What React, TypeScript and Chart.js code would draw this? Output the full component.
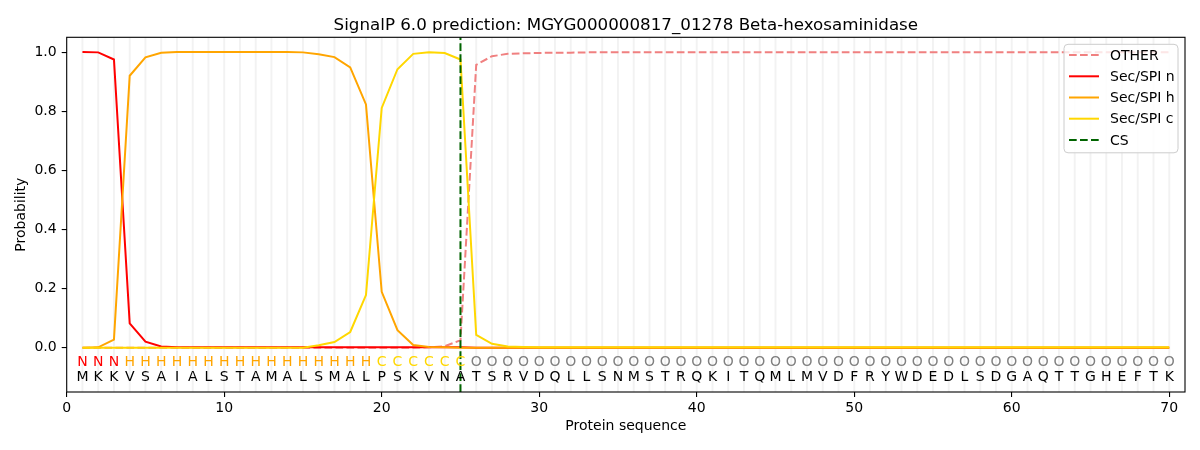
import { useEffect, useRef } from 'react'
import { Chart, registerables } from 'chart.js'

Chart.register(...registerables)

const TITLE = 'SignalP 6.0 prediction: MGYG000000817_01278 Beta-hexosaminidase'
const FONT = "'DejaVu Sans'"

const residues = 'MKKVSAIALSTAMALSMALPSKVNATSRVDQLLSNMSTRQKITQMLMVDFRYWDEDLSDGAQTTGHEFTK'.split('')
const regionLabels = 'NNNHHHHHHHHHHHHHHHHCCCCCCOOOOOOOOOOOOOOOOOOOOOOOOOOOOOOOOOOOOOOOOOOOOO'.split('')
const regionColors: Record<string, string> = { N: '#ff0000', H: '#ffa500', C: '#ffd700', O: '#808080' }

const otherP = [
  0, 0, 0, 0, 0, 0, 0, 0, 0, 0,
  0, 0, 0, 0, 0, 0, 0, 0, 0, 0,
  0, 0, 0.001, 0.005, 0.025, 0.957, 0.986, 0.994, 0.996, 0.997,
  0.998, 0.998, 0.999, 0.999, 0.999, 0.999, 0.999, 0.999, 0.999, 0.999,
  0.999, 0.999, 0.999, 0.999, 0.999, 0.999, 0.999, 0.999, 0.999, 0.999,
  0.999, 0.999, 0.999, 0.999, 0.999, 0.999, 0.999, 0.999, 0.999, 0.999,
  0.999, 0.999, 0.999, 0.999, 0.999, 0.999, 0.999, 0.999, 0.999, 0.999,
]
const secN = [
  1.0, 0.999, 0.975, 0.082, 0.02, 0.004, 0.001, 0.001, 0.001, 0.001,
  0.001, 0.001, 0.001, 0.001, 0.001, 0.001, 0.001, 0.001, 0.001, 0.001,
  0.001, 0.001, 0.001, 0.001, 0.001, 0, 0, 0, 0, 0,
  0, 0, 0, 0, 0, 0, 0, 0, 0, 0,
  0, 0, 0, 0, 0, 0, 0, 0, 0, 0,
  0, 0, 0, 0, 0, 0, 0, 0, 0, 0,
  0, 0, 0, 0, 0, 0, 0, 0, 0, 0,
]
const secH = [
  0, 0.001, 0.027, 0.92, 0.982, 0.998, 1.0, 1.0, 1.0, 1.0,
  1.0, 1.0, 1.0, 1.0, 0.999, 0.993, 0.983, 0.948, 0.823, 0.189,
  0.059, 0.009, 0.002, 0.001, 0, 0, 0, 0, 0, 0,
  0, 0, 0, 0, 0, 0, 0, 0, 0, 0,
  0, 0, 0, 0, 0, 0, 0, 0, 0, 0,
  0, 0, 0, 0, 0, 0, 0, 0, 0, 0,
  0, 0, 0, 0, 0, 0, 0, 0, 0, 0,
]
const secC = [
  0, 0, 0, 0, 0, 0, 0, 0, 0, 0,
  0, 0, 0, 0, 0, 0.008, 0.019, 0.053, 0.178, 0.811,
  0.942, 0.994, 0.999, 0.997, 0.975, 0.043, 0.013, 0.004, 0.002, 0.001,
  0.001, 0.001, 0.001, 0.001, 0.001, 0.001, 0.001, 0.001, 0.001, 0.001,
  0.001, 0.001, 0.001, 0.001, 0.001, 0.001, 0.001, 0.001, 0.001, 0.001,
  0.001, 0.001, 0.001, 0.001, 0.001, 0.001, 0.001, 0.001, 0.001, 0.001,
  0.001, 0.001, 0.001, 0.001, 0.001, 0.001, 0.001, 0.001, 0.001, 0.001,
]
const csPosition = 25

const xTicks = [0, 10, 20, 30, 40, 50, 60, 70]
const yTicks = [0, 0.2, 0.4, 0.6, 0.8, 1.0]
const xRange = [0, 71]
const yRange = [-0.15, 1.05]

const DASH = [7.7, 3.3]

const toPoints = (vals: number[]) => vals.map((y, i) => ({ x: i + 1, y }))

const decorPlugin = {
  id: 'decor',
  beforeDatasetsDraw(chart: any) {
    const { ctx, chartArea: { top, bottom }, scales: { x } } = chart
    ctx.save()
    ctx.strokeStyle = 'rgba(0,0,0,0.05)'
    ctx.lineWidth = 2
    residues.forEach((_, i) => {
      const px = x.getPixelForValue(i + 1)
      ctx.beginPath(); ctx.moveTo(px, top); ctx.lineTo(px, bottom); ctx.stroke()
    })
    ctx.restore()
  },
  afterDraw(chart: any) {
    const { ctx, chartArea: { left, right, top, bottom }, scales: { x, y } } = chart
    ctx.save()

    // frame
    ctx.strokeStyle = '#000'
    ctx.lineWidth = 1.1
    ctx.strokeRect(left, top, right - left, bottom - top)

    // residue labels and sequence
    ctx.font = `14px ${FONT}`
    ctx.textAlign = 'center'
    ctx.textBaseline = 'middle'
    residues.forEach((aa, i) => {
      const px = x.getPixelForValue(i + 1)
      ctx.fillStyle = regionColors[regionLabels[i]]
      ctx.fillText(regionLabels[i], px, y.getPixelForValue(-0.05))
      ctx.fillStyle = '#000'
      ctx.fillText(aa, px, y.getPixelForValue(-0.1))
    })

    // title
    ctx.font = `16.7px ${FONT}`
    ctx.textBaseline = 'alphabetic'
    ctx.fillStyle = '#000'
    ctx.fillText(TITLE, (left + right) / 2, 30)

    // legend
    const bw = 114, bh = 108.5
    const bx = right - 7 - bw, by = top + 7
    ctx.beginPath()
    ctx.roundRect(bx, by, bw, bh, 4)
    ctx.fillStyle = 'rgba(255,255,255,0.8)'
    ctx.fill()
    ctx.strokeStyle = '#cccccc'
    ctx.lineWidth = 1
    ctx.stroke()
    ctx.font = `14px ${FONT}`
    ctx.textAlign = 'left'
    ctx.textBaseline = 'middle'
    chart.data.datasets.forEach((ds: any, i: number) => {
      const ry = by + 10.8 + i * 21.2
      ctx.strokeStyle = ds.borderColor
      ctx.lineWidth = 2
      ctx.setLineDash(ds.borderDash || [])
      ctx.beginPath(); ctx.moveTo(bx + 5, ry); ctx.lineTo(bx + 35, ry); ctx.stroke()
      ctx.setLineDash([])
      ctx.fillStyle = '#000'
      ctx.fillText(ds.label, bx + 46, ry + 1)
    })
    ctx.restore()
  },
}

export default function App() {
  const canvasRef = useRef<HTMLCanvasElement>(null)
  const chartRef = useRef<Chart | null>(null)

  useEffect(() => {
    if (!canvasRef.current) return
    if (chartRef.current) { chartRef.current.destroy(); chartRef.current = null }

    const line = (label: string, data: number[], color: string, order: number, dash?: number[]) => ({
      label,
      data: toPoints(data),
      borderColor: color,
      borderWidth: 2,
      borderDash: dash,
      pointRadius: 0,
      tension: 0,
      fill: false,
      order,
    })

    chartRef.current = new Chart(canvasRef.current, {
      type: 'line',
      plugins: [decorPlugin],
      data: {
        datasets: [
          line('OTHER', otherP, '#f08080', 4, DASH),
          line('Sec/SPI n', secN, '#ff0000', 3),
          line('Sec/SPI h', secH, '#ffa500', 2),
          line('Sec/SPI c', secC, '#ffd700', 1),
          {
            ...line('CS', [], '#006400', 0, DASH),
            data: [{ x: csPosition, y: yRange[0] }, { x: csPosition, y: yRange[1] }],
          },
        ],
      },
      options: {
        responsive: false,
        animation: false,
        layout: { padding: { left: 0, top: 37.3, right: 15, bottom: 0 } },
        plugins: { legend: { display: false }, tooltip: { enabled: false }, title: { display: false } },
        scales: {
          x: {
            type: 'linear',
            min: xRange[0],
            max: xRange[1],
            afterBuildTicks: (s: any) => { s.ticks = xTicks.map(value => ({ value })) },
            afterFit: (s: any) => { s.height = 58 },
            border: { display: false },
            grid: { drawOnChartArea: false, drawTicks: true, tickLength: 5, color: '#000', lineWidth: 1.1 },
            ticks: {
              color: '#000', padding: 3, maxRotation: 0, autoSkip: false,
              font: { family: FONT, size: 14 },
              callback: (v: any) => String(v),
            },
            title: {
              display: true, text: 'Protein sequence', color: '#000',
              font: { family: FONT, size: 14 }, padding: { top: 0, bottom: 14.8 },
            },
          },
          y: {
            type: 'linear',
            min: yRange[0],
            max: yRange[1],
            afterBuildTicks: (s: any) => { s.ticks = yTicks.map(value => ({ value })) },
            afterFit: (s: any) => { s.width = 66.7 },
            border: { display: false },
            grid: { drawOnChartArea: false, drawTicks: true, tickLength: 5, color: '#000', lineWidth: 1.1 },
            ticks: {
              color: '#000', padding: 5,
              font: { family: FONT, size: 14 },
              callback: (v: any) => Number(v).toFixed(1),
            },
            title: {
              display: true, text: 'Probability', color: '#000',
              font: { family: FONT, size: 14 }, padding: { top: 12.6, bottom: 0 },
            },
          },
        },
      },
    } as any)

    return () => { chartRef.current?.destroy(); chartRef.current = null }
  }, [])

  return (
    <div style={{ position: 'fixed', left: 0, top: 0, width: 1200, height: 450, background: '#fff' }}>
      <canvas ref={canvasRef} width={1200} height={450} />
    </div>
  )
}
